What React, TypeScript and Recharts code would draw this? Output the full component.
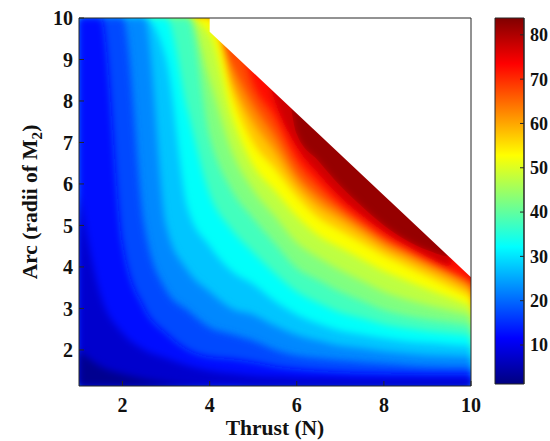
import React from 'react'
import { ComposedChart, Area, XAxis, YAxis, ReferenceArea } from 'recharts'

const thrust = [1, 1.5, 2, 2.5, 3, 3.5, 4, 4.5, 5, 5.5, 6, 6.5, 7, 7.5, 8, 8.5, 9, 9.5, 10]

// arc (radii of M2) where the mapped value reaches each level.
// 10 means the level is not reached below the top of the plot
const arc05 = [2.0, 1.6, 1.42, 1.3, 1.22, 1.17, 1.14, 1.13, 1.1, 1.1, 1.1, 1.1, 1.1, 1.1, 1.1, 1.1, 1.1, 1.1, 1.1]
const arc10 = [5.8, 3.3, 2.4, 2.0, 1.8, 1.62, 1.5, 1.43, 1.38, 1.35, 1.33, 1.32, 1.31, 1.3, 1.3, 1.3, 1.3, 1.3, 1.3]
const arc15 = [10, 10, 4.55, 3.0, 2.4, 2.0, 1.83, 1.78, 1.7, 1.6, 1.54, 1.5, 1.47, 1.45, 1.44, 1.43, 1.42, 1.42, 1.42]
const arc20 = [10, 10, 10, 5.0, 3.44, 2.95, 2.54, 2.38, 2.22, 2.0, 1.86, 1.8, 1.75, 1.71, 1.67, 1.63, 1.6, 1.59, 1.59]
const arc25 = [10, 10, 10, 10, 5.0, 3.9, 3.4, 3.0, 2.85, 2.58, 2.36, 2.22, 2.1, 2.04, 1.97, 1.92, 1.88, 1.86, 1.84]
const arc30 = [10, 10, 10, 10, 9.0, 5.4, 4.5, 3.9, 3.58, 3.17, 2.85, 2.63, 2.46, 2.37, 2.28, 2.21, 2.17, 2.13, 2.1]
const arc35 = [10, 10, 10, 10, 10, 7.75, 5.75, 4.9, 4.35, 3.84, 3.4, 3.13, 2.9, 2.76, 2.61, 2.52, 2.45, 2.4, 2.35]
const arc40 = [10, 10, 10, 10, 10, 10, 7.14, 5.86, 5.17, 4.56, 3.97, 3.68, 3.4, 3.18, 2.96, 2.83, 2.74, 2.67, 2.6]
const arc45 = [10, 10, 10, 10, 10, 10, 8.5, 6.8, 5.85, 5.22, 4.58, 4.22, 3.92, 3.66, 3.4, 3.22, 3.08, 2.96, 2.84]
const arc50 = [10, 10, 10, 10, 10, 10, 9.6, 7.67, 6.45, 5.83, 5.22, 4.75, 4.46, 4.18, 3.9, 3.68, 3.47, 3.27, 3.06]
const arc55 = [10, 10, 10, 10, 10, 10, 10, 8.19, 7.0, 6.37, 5.71, 5.19, 4.88, 4.58, 4.28, 4.03, 3.78, 3.53, 3.27]
const arc60 = [10, 10, 10, 10, 10, 10, 10, 8.5, 7.5, 6.78, 5.99, 5.48, 5.15, 4.81, 4.47, 4.22, 3.97, 3.72, 3.43]
const arc65 = [10, 10, 10, 10, 10, 10, 10, 8.9, 7.93, 7.16, 6.25, 5.72, 5.33, 4.96, 4.61, 4.35, 4.09, 3.84, 3.56]
const arc70 = [10, 10, 10, 10, 10, 10, 10, 10, 8.4, 7.6, 6.6, 6.0, 5.5, 5.1, 4.73, 4.44, 4.16, 3.9, 3.65]
const arc75 = [10, 10, 10, 10, 10, 10, 10, 10, 10, 8.0, 6.9, 6.25, 5.68, 5.24, 4.85, 4.52, 4.24, 4.02, 10]
const arc80 = [10, 10, 10, 10, 10, 10, 10, 10, 10, 10, 7.2, 6.55, 5.95, 5.45, 5.0, 4.65, 4.4, 4.25, 10]

const levels = [5, 10, 15, 20, 25, 30, 35, 40, 45, 50, 55, 60, 65, 70, 75, 80]
const contours = [arc05, arc10, arc15, arc20, arc25, arc30, arc35, arc40, arc45, arc50, arc55, arc60, arc65, arc70, arc75, arc80]

// edge of the computed region, blank above it
const edgeThrust = [4, 10]
const edgeArc = [9.67, 3.75]

const xTicks = [2, 4, 6, 8, 10]
const yTicks = [2, 3, 4, 5, 6, 7, 8, 9, 10]
const barTicks = [10, 20, 30, 40, 50, 60, 70, 80]

const ARC_MIN = 1.13
const ARC_MAX = 10
const C_MIN = 1.2
const C_MAX = 83.8
const PEAK = 82 // shade above the last contour

const clamp01 = (v: number) => Math.min(1, Math.max(0, v))

function jet(value: number) {
  const v = clamp01((value - C_MIN) / (C_MAX - C_MIN))
  const r = clamp01(1.5 - Math.abs(4 * v - 3))
  const g = clamp01(1.5 - Math.abs(4 * v - 2))
  const b = clamp01(1.5 - Math.abs(4 * v - 1))
  return `rgb(${Math.round(r * 255)},${Math.round(g * 255)},${Math.round(b * 255)})`
}

const rows = thrust.map((t, i) => {
  const row: Record<string, any> = { t, top: ARC_MAX }
  levels.forEach((lv, k) => {
    row['c' + lv] = contours[k][i]
  })
  const e = edgeThrust.indexOf(t)
  if (e >= 0) row.edge = [edgeArc[e], ARC_MAX]
  return row
})

const barRows = [
  { x: 0, r: [C_MIN, C_MAX] },
  { x: 1, r: [C_MIN, C_MAX] },
]

const serif = '"Liberation Serif", "Times New Roman", serif'
const axisColor = '#262626'
const tickFont = { fontSize: 20, fontFamily: serif, fontWeight: 700, fill: '#111' }
const barFont = { fontSize: 18, fontFamily: serif, fontWeight: 700, fill: '#111' }

const jetStops: [number, string][] = [
  [0, '#000080'],
  [0.125, '#0000ff'],
  [0.375, '#00ffff'],
  [0.625, '#ffff00'],
  [0.875, '#ff0000'],
  [1, '#800000'],
]

const fillProps = {
  fillOpacity: 1,
  stroke: 'none',
  dot: false,
  activeDot: false,
  isAnimationActive: false,
} as const

export default function App() {
  const bands = [...levels].reverse()
  return (
    <div style={{ position: 'absolute', left: 0, top: 0, width: 550, height: 441, background: '#fff' }}>
      <style>{`.soft-band path { filter: url(#softBlur); }`}</style>
      <svg width={0} height={0} style={{ position: 'absolute' }}>
        <defs>
          <filter id="softBlur" filterUnits="userSpaceOnUse" x={0} y={0} width={550} height={441}>
            <feGaussianBlur stdDeviation={3.5} />
          </filter>
          <linearGradient id="jetBar" x1="0" y1="1" x2="0" y2="0">
            {jetStops.map(([o, c]) => (
              <stop key={o} offset={o} stopColor={c} />
            ))}
          </linearGradient>
        </defs>
      </svg>

      <div style={{ position: 'absolute', left: 0, top: 0 }}>
        <ComposedChart width={550} height={441} data={rows} margin={{ top: 17, right: 78, bottom: 25, left: 29 }}>
          <Area dataKey="top" type="linear" fill={jet(PEAK)} baseValue="dataMin" {...fillProps} />
          {bands.map((lv) => (
            <Area
              key={'s' + lv}
              dataKey={'c' + lv}
              type="monotone"
              fill={jet(lv - 2.5)}
              baseValue="dataMin"
              {...fillProps}
            />
          ))}
          {bands.map((lv) => (
            <Area
              key={'b' + lv}
              className="soft-band"
              dataKey={'c' + lv}
              type="monotone"
              fill={jet(lv - 2.5)}
              baseValue="dataMin"
              {...fillProps}
            />
          ))}
          <Area dataKey="edge" type="linear" fill="#ffffff" connectNulls {...fillProps} />
          {/* invisible series so the framing axes get a scale */}
          <Area
            dataKey="top"
            xAxisId="top"
            yAxisId="right"
            type="linear"
            fill="none"
            {...fillProps}
            fillOpacity={0}
          />
          <XAxis
            dataKey="t"
            type="number"
            domain={[1, 10]}
            ticks={xTicks}
            interval={0}
            allowDataOverflow
            height={30}
            tickSize={-5}
            tickMargin={17}
            tick={tickFont}
            stroke={axisColor}
          />
          <XAxis
            xAxisId="top"
            orientation="top"
            dataKey="t"
            type="number"
            domain={[1, 10]}
            ticks={xTicks}
            interval={0}
            allowDataOverflow
            height={1}
            tickSize={-5}
            tick={false}
            stroke={axisColor}
          />
          <YAxis
            type="number"
            domain={[ARC_MIN, ARC_MAX]}
            ticks={yTicks}
            interval={0}
            allowDataOverflow
            width={50}
            tickSize={-5}
            tickMargin={11}
            tick={tickFont}
            stroke={axisColor}
          />
          <YAxis
            yAxisId="right"
            orientation="right"
            type="number"
            domain={[ARC_MIN, ARC_MAX]}
            ticks={yTicks}
            interval={0}
            allowDataOverflow
            width={1}
            tickSize={-5}
            tick={false}
            stroke={axisColor}
          />
        </ComposedChart>
      </div>

      {/* colour bar */}
      <div style={{ position: 'absolute', left: 0, top: 0 }}>
        <ComposedChart width={550} height={441} data={barRows} margin={{ top: 18, right: 0, bottom: 57, left: 495 }}>
          <XAxis dataKey="x" type="number" domain={[0, 1]} hide />
          <YAxis
            orientation="right"
            type="number"
            domain={[C_MIN, C_MAX]}
            ticks={barTicks}
            interval={0}
            allowDataOverflow
            width={26}
            tickSize={-4}
            tickMargin={10}
            tick={barFont}
            stroke={axisColor}
          />
          <Area dataKey="r" type="linear" fill="url(#jetBar)" {...fillProps} />
          <ReferenceArea
            x1={0}
            x2={1}
            y1={C_MIN}
            y2={C_MAX}
            fill="none"
            fillOpacity={0}
            stroke={axisColor}
            strokeWidth={1}
          />
        </ComposedChart>
      </div>

      {/* axis titles */}
      <div
        style={{
          position: 'absolute',
          left: 79,
          width: 392,
          top: 416,
          lineHeight: '24px',
          textAlign: 'center',
          fontFamily: serif,
          fontWeight: 700,
          fontSize: 21.5,
          color: '#111',
        }}
      >
        Thrust (N)
      </div>
      <div
        style={{
          position: 'absolute',
          left: 30 - 150,
          top: 202 - 12,
          width: 300,
          height: 24,
          lineHeight: '24px',
          textAlign: 'center',
          fontFamily: serif,
          fontWeight: 700,
          fontSize: 21.5,
          color: '#111',
          transform: 'rotate(-90deg)',
          whiteSpace: 'nowrap',
        }}
      >
        Arc (radii of M<sub style={{ fontSize: '70%', lineHeight: 0 }}>2</sub>)
      </div>
    </div>
  )
}
